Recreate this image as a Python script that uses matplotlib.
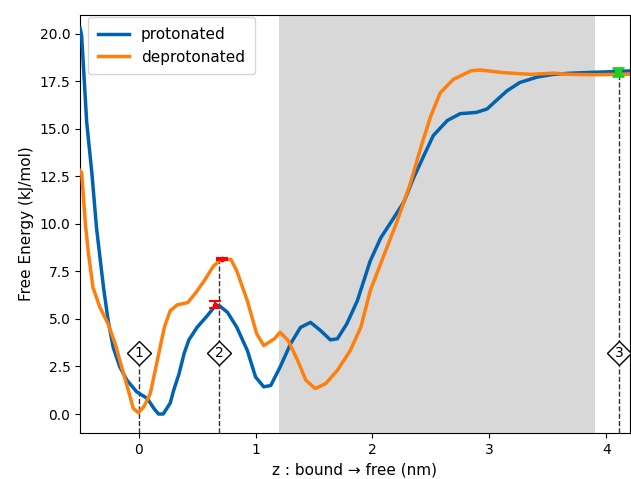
import matplotlib
matplotlib.use('Agg')
import matplotlib.pyplot as plt

# free energy profiles (z in nm, G in kJ/mol)
z_prot = [-0.5, -0.487, -0.444, -0.40, -0.36, -0.30, -0.26, -0.217, -0.16, -0.10,
          -0.017, 0.074, 0.13, 0.17, 0.21, 0.27, 0.30, 0.345, 0.39, 0.43,
          0.50, 0.587, 0.65, 0.69, 0.76, 0.84, 0.93, 1.0, 1.07, 1.13,
          1.21, 1.30, 1.385, 1.47, 1.556, 1.64, 1.70, 1.78, 1.87, 1.98,
          2.07, 2.18, 2.27, 2.35, 2.44, 2.52, 2.64, 2.75, 2.89, 2.98,
          3.06, 3.15, 3.26, 3.41, 3.55, 3.69, 3.9, 4.1, 4.2]
g_prot = [20.3, 19.9, 15.35, 12.7, 9.8, 6.65, 4.9, 3.5, 2.47, 1.78,
          1.17, 0.82, 0.3, 0.0, 0.0, 0.57, 1.25, 2.1, 3.2, 3.9,
          4.56, 5.17, 5.65, 5.7, 5.35, 4.56, 3.34, 1.95, 1.43, 1.5,
          2.47, 3.7, 4.56, 4.82, 4.39, 3.9, 3.96, 4.74, 5.95, 8.04,
          9.26, 10.3, 11.17, 12.4, 13.6, 14.65, 15.44, 15.8, 15.87, 16.05,
          16.5, 17.0, 17.44, 17.73, 17.87, 17.93, 17.98, 18.02, 18.05]

z_deprot = [-0.5, -0.487, -0.455, -0.43, -0.39, -0.33, -0.26, -0.20, -0.145, -0.088,
            -0.046, -0.003, 0.045, 0.10, 0.16, 0.22, 0.27, 0.33, 0.42, 0.49,
            0.56, 0.64, 0.71, 0.79, 0.84, 0.93, 1.01, 1.07, 1.16, 1.21,
            1.28, 1.36, 1.43, 1.51, 1.60, 1.70, 1.81, 1.90, 1.98, 2.10,
            2.21, 2.32, 2.41, 2.50, 2.58, 2.69, 2.84, 2.92, 3.12, 3.35,
            3.55, 3.69, 3.9, 4.2]
g_deprot = [12.8, 12.7, 10.0, 8.5, 6.65, 5.6, 4.73, 3.69, 2.47, 1.25,
            0.3, 0.07, 0.38, 1.08, 2.82, 4.56, 5.43, 5.74, 5.86, 6.39,
            7.0, 7.78, 8.15, 8.13, 7.52, 5.95, 4.22, 3.6, 3.95, 4.3,
            3.86, 2.82, 1.78, 1.34, 1.6, 2.3, 3.34, 4.56, 6.47, 8.39,
            10.13, 12.05, 13.96, 15.7, 16.9, 17.6, 18.05, 18.1, 17.96, 17.87,
            17.93, 17.87, 17.85, 17.88]

# barrier / endpoint estimates with errors
bar_z = [0.65, 0.71]
bar_g = [5.75, 8.15]
bar_err = [0.18, 0.07]
end_z = [4.1]
end_g = [18.0]
end_err = [0.2]

# marked states
state_labels = ['1', '2', '3']
state_z = [0.0, 0.69, 4.11]
state_top = [3.2, 8.15, 18.0]
marker_y = 3.2

# bulk region
shade_lo, shade_hi = 1.2, 3.9

fig, ax = plt.subplots(figsize=(6.31, 4.79), dpi=100)
fig.subplots_adjust(left=0.127, right=0.998, top=0.969, bottom=0.096)

ax.axvspan(shade_lo, shade_hi, color='gray', alpha=0.3, lw=0, zorder=0)

ax.plot(z_prot, g_prot, color='#0063b1', lw=2.5, label='protonated', zorder=3)
ax.plot(z_deprot, g_deprot, color='#ff7f0e', lw=2.5, label='deprotonated', zorder=3)

ax.errorbar(bar_z, bar_g, yerr=bar_err, fmt='o', ms=3, color='red',
            capsize=4, capthick=1.5, elinewidth=1.5, zorder=5)
ax.errorbar(end_z, end_g, yerr=end_err, fmt='s', ms=5, color='#1fd11f',
            capsize=4, capthick=2, elinewidth=3, zorder=5)

for lab, zz, top in zip(state_labels, state_z, state_top):
    ax.plot([zz, zz], [-1, top], ls='--', color='black', lw=1, alpha=0.8, zorder=2)
    ax.plot(zz, marker_y, marker='D', ms=12, mfc='white', mec='black', mew=1, zorder=6)
    ax.text(zz, marker_y, lab, ha='center', va='center', fontsize=10, zorder=7)

ax.set_xlim(-0.5, 4.2)
ax.set_ylim(-1, 21)
ax.set_yticks([0, 2.5, 5, 7.5, 10, 12.5, 15, 17.5, 20])
ax.set_xlabel('z : bound → free (nm)', fontsize=11)
ax.set_ylabel('Free Energy (kJ/mol)', fontsize=11)
ax.legend(loc='upper left', bbox_to_anchor=(0.0145, 0.995), borderaxespad=0,
          fontsize=11, borderpad=0.65, handlelength=2.0)

fig.savefig('out.png', dpi=100)
